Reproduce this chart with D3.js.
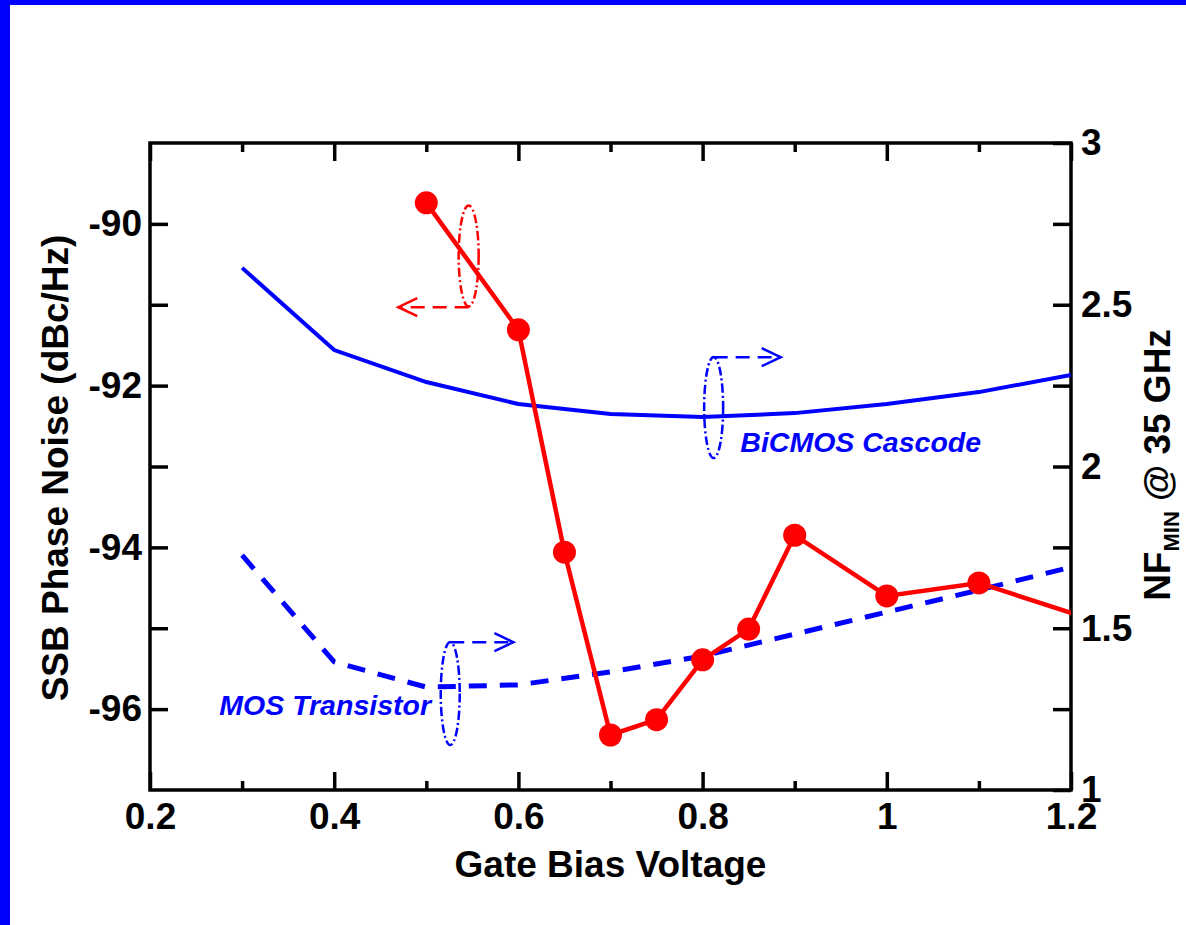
<!DOCTYPE html>
<html>
<head>
<meta charset="utf-8">
<script src="https://cdn.jsdelivr.net/npm/d3@7"></script>
<style>
  html, body { margin: 0; padding: 0; background: #fff; }
  svg { display: block; }
  text { font-family: "Liberation Sans", Arial, Helvetica, sans-serif; font-weight: bold; }
</style>
</head>
<body>
<svg id="chart" width="1186" height="925"></svg>
<script>
// ---- data ----
const blueX = [0.3, 0.4, 0.5, 0.6, 0.7, 0.8, 0.9, 1.0, 1.1, 1.2];
const bicmosNF = [2.614, 2.360, 2.261, 2.193, 2.162, 2.153, 2.165, 2.193, 2.230, 2.283];
const mosNF = [1.726, 1.396, 1.318, 1.325, 1.365, 1.414, 1.482, 1.550, 1.618, 1.689];
const redX = [0.5, 0.6, 0.65, 0.7, 0.75, 0.8, 0.85, 0.9, 1.0, 1.1, 1.3];
const phaseNoise = [-89.74, -91.31, -94.06, -96.32, -96.13, -95.39, -95.01, -93.85, -94.60, -94.44, -95.18];
const xTicks = [0.2, 0.4, 0.6, 0.8, 1, 1.2];
const xMinor = [0.3, 0.5, 0.7, 0.9, 1.1];
const yLTicks = [-96, -94, -92, -90];
const yLMinor = [-95, -93, -91];
const yRTicks = [1, 1.5, 2, 2.5, 3];
const yRMinor = [1.25, 1.75, 2.25, 2.75];

// ---- layout ----
const L = 150, R = 1071, T = 143, B = 790;
const svg = d3.select("#chart");

svg.append("rect").attr("x", 0).attr("y", 0).attr("width", 1186).attr("height", 5).attr("fill", "#0000ff");
svg.append("rect").attr("x", 0).attr("y", 0).attr("width", 10).attr("height", 925).attr("fill", "#0000ff");

const x = d3.scaleLinear().domain([0.2, 1.2]).range([L, R]);
const yL = d3.scaleLinear().domain([-97, -89]).range([B, T]);
const yR = d3.scaleLinear().domain([1, 3]).range([B, T]);

svg.append("clipPath").attr("id", "clip")
  .append("rect").attr("x", L).attr("y", T).attr("width", R - L).attr("height", B - T);

const fmt = d => String(d);
function styleAxis(g, fs) {
  g.select(".domain").remove();
  g.selectAll(".tick line").attr("stroke", "#000").attr("stroke-width", 3.5);
  g.selectAll(".tick text").attr("fill", "#000").attr("font-size", fs)
    .attr("font-family", "'Liberation Sans', Arial, sans-serif").attr("font-weight", "bold");
}

// bottom axis
svg.append("g").attr("transform", `translate(0,${B})`)
  .call(d3.axisBottom(x).tickValues(xTicks).tickFormat(fmt).tickSizeInner(-18).tickSizeOuter(0).tickPadding(13))
  .call(g => styleAxis(g, 37));
svg.append("g").attr("transform", `translate(0,${B})`)
  .call(d3.axisBottom(x).tickValues(xMinor).tickFormat("").tickSizeInner(-9).tickSizeOuter(0))
  .call(g => styleAxis(g, 37));
// top axis
svg.append("g").attr("transform", `translate(0,${T})`)
  .call(d3.axisTop(x).tickValues(xTicks).tickFormat("").tickSizeInner(-18).tickSizeOuter(0))
  .call(g => styleAxis(g, 37));
svg.append("g").attr("transform", `translate(0,${T})`)
  .call(d3.axisTop(x).tickValues(xMinor).tickFormat("").tickSizeInner(-9).tickSizeOuter(0))
  .call(g => styleAxis(g, 37));
// left axis
svg.append("g").attr("transform", `translate(${L},0)`)
  .call(d3.axisLeft(yL).tickValues(yLTicks).tickFormat(fmt).tickSizeInner(-18).tickSizeOuter(0).tickPadding(8))
  .call(g => styleAxis(g, 37));
svg.append("g").attr("transform", `translate(${L},0)`)
  .call(d3.axisLeft(yL).tickValues(yLMinor).tickFormat("").tickSizeInner(-18).tickSizeOuter(0))
  .call(g => styleAxis(g, 37));
// right axis
svg.append("g").attr("transform", `translate(${R},0)`)
  .call(d3.axisRight(yR).tickValues(yRTicks).tickFormat(fmt).tickSizeInner(-18).tickSizeOuter(0).tickPadding(10))
  .call(g => styleAxis(g, 37));
svg.append("g").attr("transform", `translate(${R},0)`)
  .call(d3.axisRight(yR).tickValues(yRMinor).tickFormat("").tickSizeInner(-18).tickSizeOuter(0))
  .call(g => styleAxis(g, 37));

// frame
svg.append("rect").attr("x", L).attr("y", T).attr("width", R - L).attr("height", B - T)
  .attr("fill", "none").attr("stroke", "#000").attr("stroke-width", 3.5);

// axis titles
svg.append("text").attr("x", (L + R) / 2).attr("y", 877).attr("text-anchor", "middle")
  .attr("font-size", 37).attr("fill", "#000").text("Gate Bias Voltage");
svg.append("text").attr("transform", "translate(68,468) rotate(-90)").attr("text-anchor", "middle")
  .attr("font-size", 37).attr("fill", "#000").text("SSB Phase Noise (dBc/Hz)");
const rt = svg.append("text").attr("transform", "translate(1170,465) rotate(-90)").attr("text-anchor", "middle")
  .attr("font-size", 37).attr("fill", "#000");
rt.append("tspan").text("NF");
rt.append("tspan").attr("font-size", 22).attr("dy", 9).text("MIN");
rt.append("tspan").attr("dy", -9).text(" @ 35 GHz");

// data lines
const plot = svg.append("g").attr("clip-path", "url(#clip)");
const blueData = blueX.map((v, i) => ({ x: v, b: bicmosNF[i], m: mosNF[i] }));
plot.append("path").datum(blueData)
  .attr("d", d3.line().x(d => x(d.x)).y(d => yR(d.b)))
  .attr("fill", "none").attr("stroke", "#0000ff").attr("stroke-width", 4);
plot.append("path").datum(blueData)
  .attr("d", d3.line().x(d => x(d.x)).y(d => yR(d.m)))
  .attr("fill", "none").attr("stroke", "#0000ff").attr("stroke-width", 5).attr("stroke-dasharray", "18,13");
const redData = redX.map((v, i) => ({ x: v, y: phaseNoise[i] }));
plot.append("path").datum(redData)
  .attr("d", d3.line().x(d => x(d.x)).y(d => yL(d.y)))
  .attr("fill", "none").attr("stroke", "#ff0000").attr("stroke-width", 4.5);
plot.selectAll("circle.pt").data(redData).join("circle").attr("class", "pt")
  .attr("cx", d => x(d.x)).attr("cy", d => yL(d.y)).attr("r", 11.5).attr("fill", "#ff0000");

// annotations (ellipse + dashed arrow)
function annot(color, cx, cy, rx, ry, fromY, tipX) {
  const g = svg.append("g");
  g.append("ellipse").attr("cx", cx).attr("cy", cy).attr("rx", rx).attr("ry", ry)
    .attr("fill", "none").attr("stroke", color).attr("stroke-width", 2.5).attr("stroke-dasharray", "9,3,2,3");
  g.append("line").attr("x1", cx).attr("y1", fromY).attr("x2", tipX).attr("y2", fromY)
    .attr("stroke", color).attr("stroke-width", 2.5).attr("stroke-dasharray", "14,8");
  const dir = tipX > cx ? -1 : 1;
  g.append("polyline").attr("points", `${tipX + dir * 19},${fromY - 9} ${tipX},${fromY} ${tipX + dir * 19},${fromY + 9}`)
    .attr("fill", "none").attr("stroke", color).attr("stroke-width", 2.5);
}
annot("#ff0000", x(0.546), yL(-90.397), 10, 50.5, yL(-91.03), x(0.4696));
annot("#0000ff", x(0.812), yR(2.182), 9.5, 50.5, yR(2.338), x(0.8848));
annot("#0000ff", x(0.526), yR(1.298), 9.5, 51.5, yR(1.457), x(0.5946));

svg.append("text").attr("x", x(0.841)).attr("y", 452).attr("font-size", 28.5).attr("font-style", "italic")
  .attr("fill", "#0000ff").text("BiCMOS Cascode");
svg.append("text").attr("x", 431).attr("y", 715).attr("text-anchor", "end").attr("font-size", 28.5)
  .attr("font-style", "italic").attr("fill", "#0000ff").text("MOS Transistor");
</script>
</body>
</html>
